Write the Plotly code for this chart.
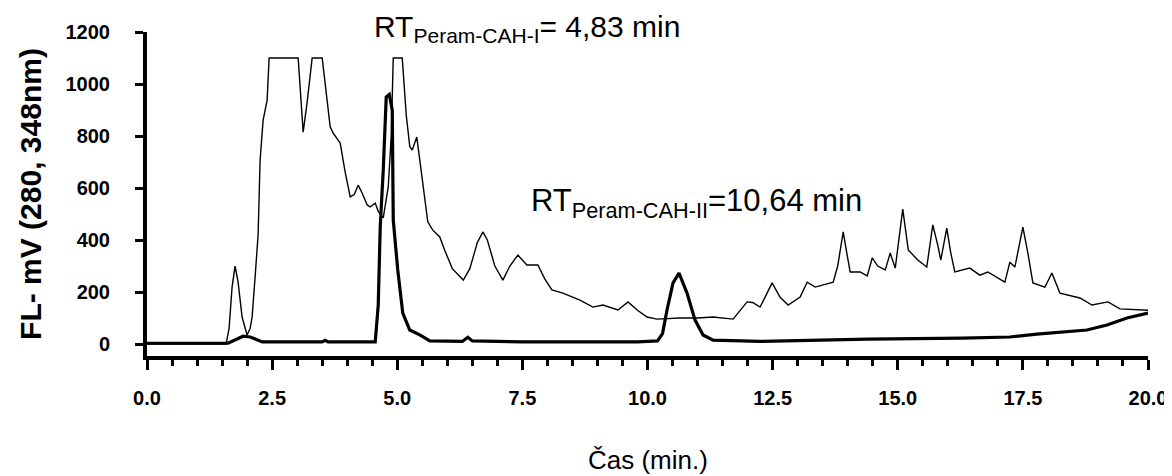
import plotly.graph_objects as go

# Thin trace: total chromatogram (time in min, FL mV)
thin_t = [0, 1.58, 1.64, 1.70, 1.76, 1.82, 1.90, 2.00, 2.06, 2.10, 2.16, 2.22, 2.26, 2.32, 2.40, 2.44,
          3.02, 3.12, 3.20, 3.30, 3.50, 3.60, 3.66, 3.72, 3.86, 3.96, 4.06, 4.14, 4.22, 4.30, 4.40,
          4.46, 4.56, 4.62, 4.72, 4.82, 4.88, 4.92, 5.10, 5.18, 5.25, 5.30, 5.39, 5.45, 5.52, 5.61,
          5.71, 5.85, 5.95, 6.10, 6.32, 6.45, 6.60, 6.71, 6.80, 6.95, 7.11, 7.25, 7.41, 7.50, 7.59,
          7.81, 7.95, 8.09, 8.31, 8.65, 8.91, 9.11, 9.41, 9.61, 9.80, 9.99, 10.19, 10.65, 11.00,
          11.31, 11.71, 11.99, 12.10, 12.25, 12.49, 12.65, 12.81, 13.05, 13.19, 13.35, 13.71, 13.80,
          13.91, 14.00, 14.05, 14.25, 14.39, 14.49, 14.60, 14.75, 14.85, 14.95, 15.03, 15.10, 15.21,
          15.40, 15.58, 15.70, 15.80, 15.86, 15.98, 16.06, 16.14, 16.44, 16.64, 16.80, 17.14, 17.24,
          17.34, 17.50, 17.60, 17.70, 17.94, 18.08, 18.24, 18.64, 18.88, 19.20, 19.44, 20.0]
thin_v = [0, 0, 60, 220, 300, 238, 104, 35, 60, 104, 258, 420, 708, 861, 938, 1100,
          1100, 815, 930, 1100, 1100, 930, 835, 811, 773, 660, 566, 575, 611, 580, 535,
          527, 542, 510, 485, 604, 800, 1100, 1100, 880, 760, 746, 796, 708, 600, 470,
          438, 412, 360, 290, 246, 290, 390, 431, 400, 300, 246, 300, 342, 325, 304,
          304, 250, 208, 196, 169, 142, 150, 131, 162, 130, 104, 96, 100, 100,
          104, 96, 162, 160, 142, 235, 180, 150, 181, 238, 219, 238, 300,
          431, 330, 277, 277, 262, 331, 300, 285, 350, 292, 420, 519, 362,
          323, 296, 458, 380, 323, 446, 350, 277, 292, 265, 277, 238, 315,
          296, 450, 350, 235, 219, 273, 196, 177, 150, 162, 135, 130]

# Thick trace: Peram-CAH sample
thick_t = [0, 1.62, 1.92, 2.06, 2.22, 2.30, 3.50, 3.56, 3.62, 4.56, 4.62, 4.66, 4.72, 4.78, 4.84,
           4.90, 4.92, 5.01, 5.11, 5.25, 5.45, 5.65, 6.30, 6.41, 6.50, 7.50, 9.80, 10.20, 10.30,
           10.39, 10.51, 10.63, 10.79, 10.95, 11.11, 11.31, 12.25, 14.40, 16.30, 17.24, 17.78,
           18.78, 19.18, 19.58, 20.0]
thick_v = [3, 3, 30, 27, 15, 8, 8, 14, 8, 8, 150, 450, 669, 950, 960,
           900, 477, 285, 119, 54, 35, 12, 10, 26, 12, 8, 8, 12, 40,
           131, 235, 273, 196, 92, 35, 15, 10, 19, 23, 27, 38,
           54, 73, 100, 119]

y_ticks = [0, 200, 400, 600, 800, 1000, 1200]

FONT = "Liberation Sans, Arial"

fig = go.Figure()
fig.add_trace(go.Scatter(x=thin_t, y=thin_v, mode="lines",
                         line=dict(color="black", width=1.4), showlegend=False))
fig.add_trace(go.Scatter(x=thick_t, y=thick_v, mode="lines",
                         line=dict(color="black", width=3.2), showlegend=False))

tickfont = dict(family=FONT, size=20, color="black", weight="bold")

fig.update_layout(
    width=1172, height=476,
    margin=dict(l=139, r=32, t=24, b=128),
    paper_bgcolor="white", plot_bgcolor="white",
    font=dict(family=FONT, color="black"),
    xaxis=dict(range=[0, 20], showgrid=False, zeroline=False, showline=True,
               linecolor="black", linewidth=4, ticks="outside", ticklen=10, tickwidth=3,
               tickcolor="black", tick0=0, dtick=2.5, tickformat=".1f",
               tickfont=tickfont, ticklabelstandoff=11,
               minor=dict(dtick=0.5, tick0=0, ticks="outside", ticklen=6, tickwidth=2.5,
                          tickcolor="black", showgrid=False)),
    yaxis=dict(range=[-46, 1200], showgrid=False, zeroline=False, showline=True,
               linecolor="black", linewidth=4, ticks="outside", ticklen=8, tickwidth=2.5,
               tickcolor="black", tickvals=y_ticks, tickfont=tickfont,
               ticklabelstandoff=21,
               title=dict(text="FL- mV (280, 348nm)",
                          font=dict(family=FONT, size=30, color="black", weight="bold"),
                          standoff=16)),
    annotations=[
        dict(x=4.50, y=1.010, xref="x", yref="paper", xanchor="left", yanchor="middle",
             text="RT<sub>Peram-CAH-I</sub>= 4,83 min", showarrow=False,
             font=dict(family=FONT, size=30, color="black")),
        dict(x=7.63, y=0.472, xref="x", yref="paper", xanchor="left", yanchor="middle",
             text="RT<sub>Peram-CAH-II</sub>=10,64 min", showarrow=False,
             font=dict(family=FONT, size=31, color="black")),
        dict(x=0.5, y=-0.322, xref="paper", yref="paper", xanchor="center", yanchor="middle",
             text="Čas (min.)", showarrow=False,
             font=dict(family=FONT, size=26, color="black")),
    ],
)

fig.write_html("out.html")
